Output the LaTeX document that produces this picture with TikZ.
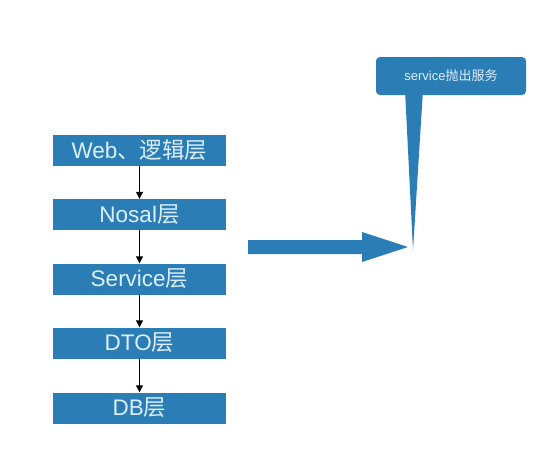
\documentclass[tikz,border=0pt]{standalone}
\usepackage{fontspec}
\setmainfont{Liberation Sans}
\newfontfamily\cjk{Noto Sans CJK SC}
\usetikzlibrary{arrows.meta}
\definecolor{boxblue}{HTML}{2B7DB5}
\definecolor{txtcol}{HTML}{DDEFFA}
\begin{document}
\begin{tikzpicture}[x=1pt,y=-1pt,
  layer/.style={rectangle, fill=boxblue, minimum width=173pt, minimum height=31pt, inner sep=0pt,
    text=txtcol, font=\fontsize{22.5}{22.5}\selectfont},
  flow/.style={draw=black, line width=1pt, -{Triangle[length=7pt,width=7pt]}},
  callout/.style={rectangle, rounded corners=4pt, fill=boxblue, minimum width=150pt, minimum height=38pt,
    inner sep=0pt, text=txtcol, font=\fontsize{13}{13}\selectfont}]
\useasboundingbox (0,0) rectangle (558,458);
\fill[white] (0,0) rectangle (558,458);
% layers
\node[layer] (web) at (139.5,150.5) {Web{\cjk 、逻辑层}};
\node[layer] (nosql) at (139.5,214.5) {Nosal{\cjk 层}};
\node[layer] (svc) at (139.5,279) {Service{\cjk 层}};
\node[layer] (dto) at (139.5,343) {DTO{\cjk 层}};
\node[layer] (db) at (139.5,408) {DB{\cjk 层}};
\draw[flow] (web) -- (nosql);
\draw[flow] (nosql) -- (svc);
\draw[flow] (svc) -- (dto);
\draw[flow] (dto) -- (db);
% callout
\coordinate (tip) at (413,250);
\fill[boxblue] (405,90) -- (tip) -- (423,90) -- cycle;
\node[callout] (out) at (451,76) {service{\cjk 抛出服务}};
% big arrow
\fill[boxblue] (248,240) -- (362,240) -- (362,232) -- (408,247) -- (362,262) -- (362,254) -- (248,254) -- cycle;
\end{tikzpicture}
\end{document}
